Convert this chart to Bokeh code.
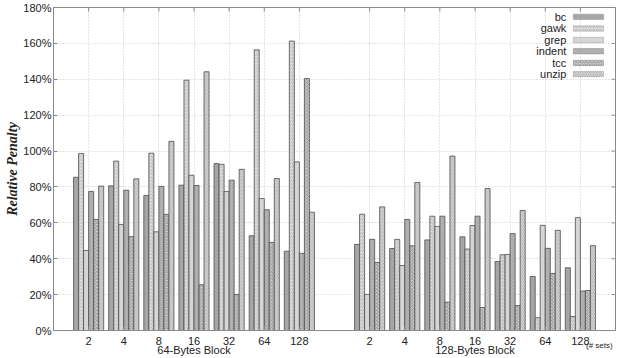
from bokeh.plotting import figure
from bokeh.models import (ColumnDataSource, FixedTicker, PrintfTickFormatter,
                          LinearAxis, Range1d, BoxAnnotation, Label)
from bokeh.embed import file_html
from bokeh.resources import INLINE
import numpy as np

# number of cache sets, shown for both block sizes
set_labels = ["2", "4", "8", "16", "32", "64", "128"]
block_labels = ["64-Bytes Block", "128-Bytes Block"]
programs = ["bc", "gawk", "grep", "indent", "tcc", "unzip"]

# relative penalty (%) per program: 64-byte blocks first, then 128-byte blocks
bc = [85.4, 80.6, 75.3, 81.0, 93.0, 52.8, 44.2,
      48.0, 45.7, 50.5, 52.2, 38.5, 30.1, 35.0]
gawk = [98.6, 94.4, 98.8, 139.5, 92.6, 156.4, 161.3,
        64.8, 50.8, 63.7, 45.4, 42.2, 7.1, 7.8]
grep = [44.6, 59.1, 55.0, 86.5, 77.5, 73.6, 94.0,
        20.1, 36.2, 58.0, 58.5, 42.4, 58.6, 62.9]
indent = [77.5, 78.2, 80.3, 80.8, 83.8, 67.3, 43.0,
          50.8, 61.9, 63.7, 63.7, 54.0, 45.8, 22.0]
tcc = [61.9, 52.3, 64.7, 25.5, 20.1, 49.1, 140.4,
       37.9, 47.2, 15.8, 12.8, 13.9, 31.8, 22.3]
unzip = [80.5, 84.5, 105.4, 144.2, 89.8, 84.7, 65.9,
         68.9, 82.5, 97.2, 79.1, 66.9, 55.8, 47.3]

series = [bc, gawk, grep, indent, tcc, unzip]

# fill / hatch style for each program
styles = [
    dict(fill_color="#a6a6a6", hatch_pattern=None),
    dict(fill_color="#f4f4f4", hatch_pattern="/", hatch_color="#9a9a9a"),
    dict(fill_color="#d6d6d6", hatch_pattern=None),
    dict(fill_color="#bababa", hatch_pattern="x", hatch_color="#9a9a9a"),
    dict(fill_color="#d0d0d0", hatch_pattern="x", hatch_color="#808080"),
    dict(fill_color="#fafafa", hatch_pattern="\\", hatch_color="#858585"),
]

# group centres: two clusters of seven, one empty slot between them
centres = np.concatenate([np.arange(1, 8), np.arange(9, 16)])
bar_w = 0.143
Y_MAX = 180
y_ticks = list(range(0, Y_MAX + 1, 20))

p = figure(width=622, height=358, output_backend="svg", toolbar_location=None,
           x_range=Range1d(0, 16), y_range=Range1d(0, Y_MAX),
           min_border_left=53, min_border_right=7, min_border_top=7,
           min_border_bottom=28, background_fill_color="white",
           border_fill_color="white")

for i, (vals, st) in enumerate(zip(series, styles)):
    src = ColumnDataSource(dict(x=centres + (i - 2.5) * bar_w, top=vals))
    kw = dict(fill_color=st["fill_color"], line_color="#4d4d4d", line_width=0.8)
    if st["hatch_pattern"]:
        kw.update(hatch_pattern=st["hatch_pattern"], hatch_color=st["hatch_color"],
                  hatch_scale=3.5, hatch_weight=0.8)
    p.vbar(x="x", top="top", bottom=0, width=bar_w, source=src, **kw)

# axes
tick_font = "Liberation Sans"
axis_grey = "#8a8a8a"
p.xaxis.ticker = FixedTicker(ticks=[float(c) for c in centres])
p.xaxis.major_label_overrides = {float(c): lab for c, lab in
                                 zip(centres, set_labels * 2)}
p.yaxis.ticker = FixedTicker(ticks=y_ticks)
p.yaxis.formatter = PrintfTickFormatter(format="%d%%")
for ax in (p.xaxis[0], p.yaxis[0]):
    ax.major_label_text_font = tick_font
    ax.major_label_text_font_size = "11px"
    ax.major_label_text_color = "#222222"
    ax.axis_line_color = axis_grey
    ax.major_tick_line_color = axis_grey
    ax.major_tick_in = 4
    ax.major_tick_out = 0
    ax.minor_tick_line_color = None
p.xaxis.major_label_standoff = 6
p.yaxis.major_label_standoff = 2

p.yaxis.axis_label = "Relative Penalty"
p.yaxis.axis_label_text_font = "Liberation Serif"
p.yaxis.axis_label_text_font_style = "bold italic"
p.yaxis.axis_label_text_font_size = "14px"
p.yaxis.axis_label_text_color = "#222222"
p.yaxis.axis_label_standoff = 0

# "(# sets)" note and block-size captions, tucked up under the set labels
sets_axis = LinearAxis(ticker=FixedTicker(ticks=[15.54]),
                       major_label_overrides={15.54: "(# sets)"},
                       major_label_text_font=tick_font,
                       major_label_text_font_size="8px",
                       major_label_text_color="#222222",
                       major_label_standoff=-13, axis_line_color=None,
                       major_tick_line_color=None, minor_tick_line_color=None)
p.add_layout(sets_axis, "below")

caption_axis = LinearAxis(ticker=FixedTicker(ticks=[4.0, 12.0]),
                          major_label_overrides={4.0: block_labels[0],
                                                 12.0: block_labels[1]},
                          major_label_text_font=tick_font,
                          major_label_text_font_size="11px",
                          major_label_text_color="#222222",
                          major_label_standoff=-15, axis_line_color=None,
                          major_tick_line_color=None, minor_tick_line_color=None)
p.add_layout(caption_axis, "below")

# mirrored ticks along the top and right edges
p.segment(x0=centres, y0=Y_MAX, x1=centres, y1=Y_MAX - 2.2,
          line_color=axis_grey, line_width=1)
p.segment(x0=16, y0=y_ticks, x1=16 - 0.11, y1=y_ticks,
          line_color=axis_grey, line_width=1)

p.xgrid.grid_line_color = "#c8c8c8"
p.xgrid.grid_line_dash = "1 2"
p.ygrid.grid_line_color = "#c8c8c8"
p.ygrid.grid_line_dash = "1 2"
p.outline_line_color = axis_grey

# legend: name on the left, swatch on the right
row_y = [174.8, 168.3, 161.9, 155.6, 149.1, 142.9]
for name, st, yc in zip(programs, styles, row_y):
    p.add_layout(Label(x=14.6, y=yc, text=name, text_align="right",
                       text_baseline="middle", text_font=tick_font,
                       text_font_size="11px", text_color="#222222"))
    kw = dict(fill_color=st["fill_color"], fill_alpha=1, line_color="#4d4d4d",
              line_width=0.8, left=14.8, right=15.66, bottom=yc - 1.5,
              top=yc + 1.5, level="overlay")
    if st["hatch_pattern"]:
        kw.update(hatch_pattern=st["hatch_pattern"], hatch_color=st["hatch_color"],
                  hatch_scale=3.5, hatch_weight=0.8)
    p.add_layout(BoxAnnotation(**kw))

open("out.html", "w").write(file_html(p, INLINE))
